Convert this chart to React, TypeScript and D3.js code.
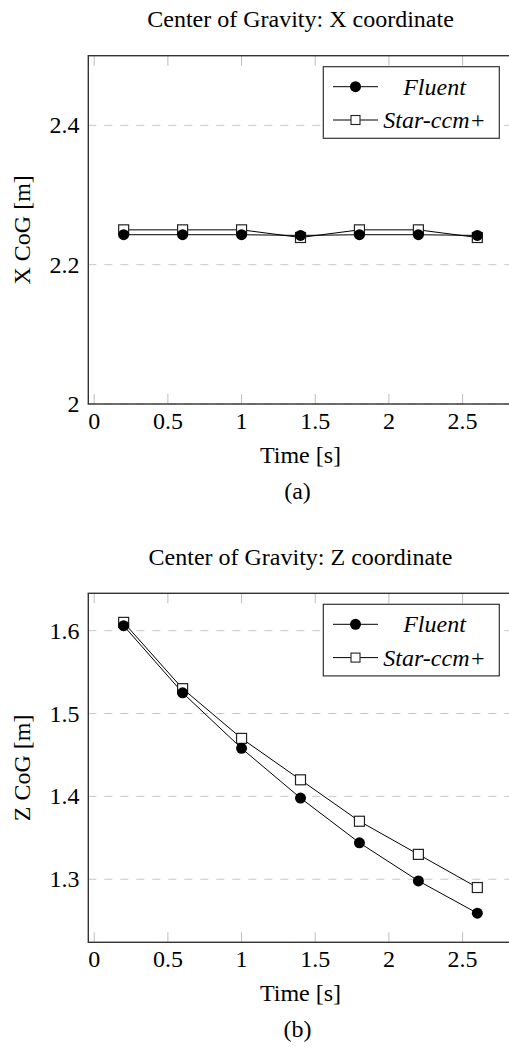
import React from "react";
import * as d3 from "d3";

const times = [0.2, 0.6, 1.0, 1.4, 1.8, 2.2, 2.6];
const xFluent = [2.243, 2.243, 2.243, 2.242, 2.243, 2.243, 2.242];
const xStar = [2.25, 2.25, 2.25, 2.239, 2.25, 2.25, 2.239];
const zFluent = [1.606, 1.525, 1.458, 1.398, 1.344, 1.298, 1.259];
const zStar = [1.61, 1.53, 1.47, 1.42, 1.37, 1.33, 1.29];
const xTicks = [0, 0.5, 1, 1.5, 2, 2.5];
const xCoGTicks = [2, 2.2, 2.4];
const zCoGTicks = [1.3, 1.4, 1.5, 1.6];
const seriesNames = ["Fluent", "Star-ccm+"];

const FONT = "'Liberation Serif', 'Times New Roman', serif";
const LEFT = 88.3;
const RIGHT = 512.7;

type ChartProps = {
  top: number;
  bottom: number;
  title: string;
  yLabel: string;
  caption: string;
  fluent: number[];
  star: number[];
  yTicks: number[];
  yDomain?: [number, number];
};

function Chart({ top, bottom, title, yLabel, caption, fluent, star, yTicks, yDomain }: ChartProps) {
  const tMin = d3.min(times)!;
  const tMax = d3.max(times)!;
  const tPad = (tMax - tMin) * 0.1;
  const x = d3.scaleLinear().domain([tMin - tPad, tMax + tPad]).range([LEFT, RIGHT]);
  let dom = yDomain;
  if (!dom) {
    const all = [...fluent, ...star];
    const lo = d3.min(all)!;
    const hi = d3.max(all)!;
    const p = (hi - lo) * 0.1;
    dom = [lo - p, hi + p];
  }
  const y = d3.scaleLinear().domain(dom).range([bottom, top]);
  const line = d3
    .line<number>()
    .x((_, i) => x(times[i]))
    .y((d) => y(d));
  const midY = (top + bottom) / 2;
  const midX = (LEFT + RIGHT) / 2;
  const lgX = 323.3;
  const lgY = top + 11;
  const lgW = 176;
  const lgH = 71.6;
  const rows = [lgY + 20, lgY + 53.3];
  const sq = 10;
  return (
    <g fontFamily={FONT} fontSize={24} fill="#000">
      <text x={midX} y={top - 28.5} textAnchor="middle">{title}</text>
      {yTicks.map((t) => (
        <line key={"g" + t} x1={LEFT} x2={RIGHT} y1={y(t)} y2={y(t)} stroke="#c8c8c8" strokeWidth={1} strokeDasharray="8,8" />
      ))}
      {xTicks.map((t) => (
        <g key={"xt" + t}>
          <line x1={x(t)} x2={x(t)} y1={bottom} y2={bottom - 10} stroke="#bdbdbd" strokeWidth={1} />
          <line x1={x(t)} x2={x(t)} y1={top} y2={top + 10} stroke="#bdbdbd" strokeWidth={1} />
          <text x={x(t)} y={bottom + 25} textAnchor="middle">{String(t)}</text>
        </g>
      ))}
      {yTicks.map((t) => (
        <text key={"yl" + t} x={79.5} y={y(t) + 8} textAnchor="end">{String(t)}</text>
      ))}
      <path d={line(star) || ""} fill="none" stroke="#000" strokeWidth={1} />
      <path d={line(fluent) || ""} fill="none" stroke="#000" strokeWidth={1} />
      {star.map((v, i) => (
        <rect key={"s" + i} x={x(times[i]) - sq / 2} y={y(v) - sq / 2} width={sq} height={sq} fill="#fff" stroke="#222" strokeWidth={1.2} />
      ))}
      {fluent.map((v, i) => (
        <circle key={"f" + i} cx={x(times[i])} cy={y(v)} r={5.5} fill="#000" />
      ))}
      <rect x={LEFT} y={top} width={RIGHT - LEFT} height={bottom - top} fill="none" stroke="#333" strokeWidth={1.4} />
      <g>
        <rect x={lgX} y={lgY} width={lgW} height={lgH} fill="#fff" stroke="#333" strokeWidth={1.2} />
        <line x1={333} x2={378} y1={rows[0]} y2={rows[0]} stroke="#000" strokeWidth={1} />
        <circle cx={355.5} cy={rows[0]} r={5.5} fill="#000" />
        <line x1={333} x2={378} y1={rows[1]} y2={rows[1]} stroke="#000" strokeWidth={1} />
        <rect x={355.5 - 4.5} y={rows[1] - 4.5} width={9} height={9} fill="#fff" stroke="#222" strokeWidth={1.1} />
        <text x={434.5} y={rows[0] + 8} textAnchor="middle" fontStyle="italic">{seriesNames[0]}</text>
        <text x={434.5} y={rows[1] + 8} textAnchor="middle" fontStyle="italic">{seriesNames[1]}</text>
      </g>
      <text x={midX} y={bottom + 59} textAnchor="middle">Time [s]</text>
      <text transform={`translate(29.5,${midY}) rotate(-90)`} textAnchor="middle">{yLabel}</text>
      <text x={297.5} y={bottom + 95} textAnchor="middle">{caption}</text>
    </g>
  );
}

export default function App() {
  return (
    <svg width={509} height={1047} style={{ position: "absolute", left: 0, top: 0, background: "#fff" }}>
      <rect width={509} height={1047} fill="#fff" />
      <Chart
        top={55.7}
        bottom={404}
        title="Center of Gravity: X coordinate"
        yLabel="X CoG [m]"
        caption="(a)"
        fluent={xFluent}
        star={xStar}
        yTicks={xCoGTicks}
        yDomain={[2, 2.5]}
      />
      <Chart
        top={593.3}
        bottom={942.3}
        title="Center of Gravity: Z coordinate"
        yLabel="Z CoG [m]"
        caption="(b)"
        fluent={zFluent}
        star={zStar}
        yTicks={zCoGTicks}
      />
    </svg>
  );
}
